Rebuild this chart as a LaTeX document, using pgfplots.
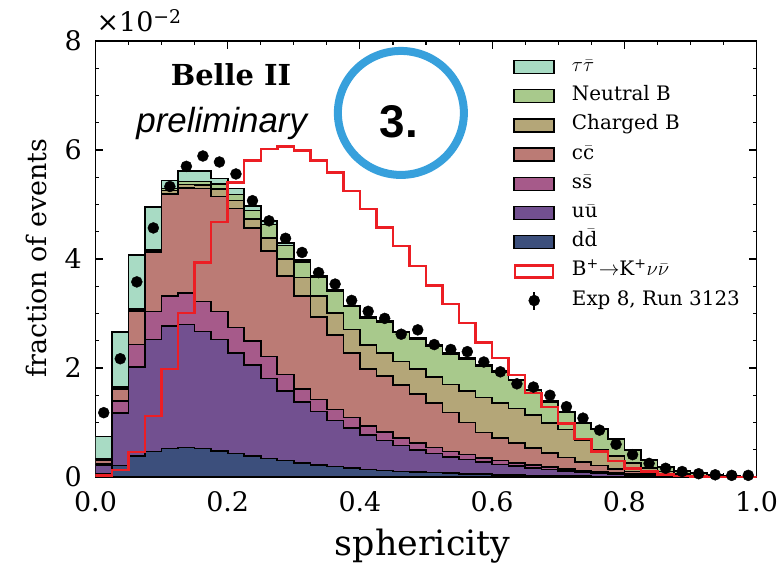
\documentclass[border=0pt]{standalone}
\usepackage{pgfplots}
\pgfplotsset{compat=1.18}
\usepackage{pgfplotstable}
\usepackage{fontspec}
\setmainfont{DejaVu Serif}
\newfontfamily\libsans{Liberation Sans}
\usetikzlibrary{calc}

\definecolor{tau}{RGB}{168,219,196}
\definecolor{nb}{RGB}{168,201,140}
\definecolor{cb}{RGB}{180,166,120}
\definecolor{cc}{RGB}{187,123,117}
\definecolor{ss}{RGB}{166,90,138}
\definecolor{uu}{RGB}{114,80,144}
\definecolor{dd}{RGB}{60,79,124}
\definecolor{sigred}{RGB}{236,30,36}
\definecolor{circblue}{RGB}{55,160,220}

\pgfplotsset{
  histlegend/.style={legend image code/.code={\draw[##1, line width=1.5bp] (0bp,-6.5bp) rectangle (40bp,6.5bp);}},
  hist/.style={const plot mark left, draw=black, line width=1.6bp, histlegend},
}

% cumulative stack boundaries (x = left bin edge), units of 1e-2
\pgfplotstableread{
x     T     N     CB    C     S     U     D
0.000 0.74  0.34  0.33  0.31  0.25  0.22  0.06
0.025 2.66  1.66  1.64  1.61  1.40  1.17  0.21
0.050 4.07  3.08  3.06  3.04  2.43  2.02  0.38
0.075 4.95  4.16  4.14  4.12  3.04  2.52  0.47
0.100 5.44  5.29  5.26  5.19  3.32  2.77  0.52
0.125 5.62  5.42  5.37  5.30  3.38  2.80  0.54
0.150 5.62  5.42  5.36  5.29  3.22  2.67  0.52
0.175 5.48  5.38  5.28  5.15  3.04  2.52  0.48
0.200 5.29  5.18  5.07  4.93  2.74  2.28  0.43
0.225 4.97  4.89  4.73  4.57  2.49  2.06  0.38
0.250 4.70  4.63  4.38  4.15  2.21  1.81  0.34
0.275 4.29  4.25  4.00  3.69  1.88  1.58  0.30
0.300 3.98  3.95  3.66  3.32  1.62  1.38  0.26
0.325 3.69  3.66  3.32  2.94  1.42  1.20  0.22
0.350 3.44  3.41  3.01  2.60  1.24  1.04  0.19
0.375 3.15  3.13  2.71  2.28  1.09  0.90  0.16
0.400 2.94  2.92  2.42  1.98  0.94  0.77  0.14
0.425 2.86  2.84  2.28  1.85  0.83  0.67  0.12
0.450 2.67  2.65  2.12  1.69  0.72  0.58  0.10
0.475 2.55  2.53  1.98  1.52  0.62  0.50  0.09
0.500 2.42  2.40  1.84  1.36  0.54  0.43  0.08
0.525 2.28  2.26  1.70  1.18  0.47  0.37  0.07
0.550 2.19  2.17  1.58  1.00  0.41  0.32  0.06
0.575 2.06  2.04  1.46  0.82  0.35  0.27  0.05
0.600 1.94  1.92  1.36  0.72  0.30  0.23  0.04
0.625 1.79  1.77  1.26  0.62  0.26  0.20  0.035
0.650 1.60  1.59  1.14  0.53  0.22  0.17  0.03
0.675 1.39  1.38  0.99  0.44  0.18  0.14  0.025
0.700 1.20  1.19  0.87  0.36  0.15  0.11  0.02
0.725 1.00  0.99  0.68  0.28  0.12  0.09  0.015
0.750 0.88  0.87  0.50  0.21  0.09  0.07  0.01
0.775 0.70  0.69  0.38  0.15  0.07  0.05  0.01
0.800 0.50  0.49  0.26  0.10  0.05  0.035 0.005
0.825 0.32  0.31  0.16  0.06  0.035 0.025 0.005
0.850 0.19  0.18  0.10  0.04  0.02  0.015 0.003
0.875 0.12  0.11  0.06  0.02  0.01  0.008 0.002
0.900 0.07  0.065 0.03  0.01  0.006 0.004 0.001
0.925 0.04  0.035 0.015 0.005 0.003 0.002 0.0
0.950 0.02  0.018 0.008 0.002 0.001 0.001 0.0
0.975 0.01  0.009 0.004 0.001 0.0   0.0   0.0
1.000 0.01  0.009 0.004 0.001 0.0   0.0   0.0
}\stack

\pgfplotstableread{
x     s
0.000 0.03
0.025 0.13
0.050 0.46
0.075 1.12
0.100 1.98
0.125 3.01
0.150 3.94
0.175 4.68
0.200 5.40
0.225 5.81
0.250 6.02
0.275 6.06
0.300 5.99
0.325 5.81
0.350 5.59
0.375 5.25
0.400 4.92
0.425 4.58
0.450 4.24
0.475 3.87
0.500 3.51
0.525 3.17
0.550 2.83
0.575 2.47
0.600 2.18
0.625 1.87
0.650 1.54
0.675 1.28
0.700 0.98
0.725 0.70
0.750 0.47
0.775 0.29
0.800 0.16
0.825 0.10
0.850 0.05
0.875 0.02
0.900 0.01
0.925 0.0
0.950 0.0
0.975 0.0
1.000 0.0
}\sig

\pgfplotstableread{
x      d
0.0125 1.18
0.0375 2.17
0.0625 3.58
0.0875 4.57
0.1125 5.33
0.1375 5.70
0.1625 5.89
0.1875 5.78
0.2125 5.56
0.2375 5.07
0.2625 4.70
0.2875 4.38
0.3125 4.12
0.3375 3.75
0.3625 3.54
0.3875 3.24
0.4125 3.04
0.4375 2.91
0.4625 2.62
0.4875 2.70
0.5125 2.43
0.5375 2.34
0.5625 2.30
0.5875 2.11
0.6125 1.93
0.6375 1.71
0.6625 1.65
0.6875 1.50
0.7125 1.29
0.7375 1.08
0.7625 0.86
0.7875 0.60
0.8125 0.41
0.8375 0.25
0.8625 0.16
0.8875 0.10
0.9125 0.06
0.9375 0.04
0.9625 0.03
0.9875 0.03
}\data

\begin{document}
\begin{tikzpicture}
\begin{axis}[
  scale only axis, width=661bp, height=436bp,
  xmin=0, xmax=1, ymin=0, ymax=8,
  xtick={0,0.2,0.4,0.6,0.8,1.0},
  ytick={0,2,4,6,8},
  minor x tick num=3, minor y tick num=3,
  tick align=inside, xtick pos=both, ytick pos=both,
  xticklabel pos=lower, yticklabel pos=left,
  major tick length=8bp, minor tick length=4bp,
  every tick/.style={black, line width=1.1bp},
  axis line style={line width=1.5bp},
  /pgf/number format/assume math mode=true,
  tick label style={font=\fontsize{27}{32}\selectfont},
  xticklabel style={anchor=north, inner sep=0pt, text height=19.7bp, text depth=0pt, yshift=-15bp,
    /pgf/number format/.cd, fixed, fixed zerofill, precision=1},
  yticklabel style={anchor=east, inner sep=0pt, text height=19.7bp, text depth=0pt, xshift=-13.5bp},
  xlabel={sphericity}, ylabel={fraction of events},
  xlabel style={font=\fontsize{35}{42}\selectfont, at={(axis description cs:0.495,-0.179)}, anchor=base},
  ylabel style={font=\fontsize{27}{32}\selectfont, at={(axis description cs:-0.0734,0.502)}, anchor=base},
  legend style={at={(rel axis cs:0.632,0.965)}, anchor=north west, draw=none, fill=none,
    inner sep=0pt, row sep=8.2bp, column sep=17bp, font=\fontsize{20}{24}\selectfont,
    nodes={inner sep=0pt, text height=15bp, text depth=6bp}},
  legend cell align=left,
]
\addplot[hist, fill=tau] table[x=x,y=T]{\stack} \closedcycle;
\addlegendentry{$\tau\bar{\tau}$}
\addplot[hist, fill=nb] table[x=x,y=N]{\stack} \closedcycle;
\addlegendentry{Neutral B}
\addplot[hist, fill=cb] table[x=x,y=CB]{\stack} \closedcycle;
\addlegendentry{Charged B}
\addplot[hist, fill=cc] table[x=x,y=C]{\stack} \closedcycle;
\addlegendentry{c$\bar{\mbox{c}}$}
\addplot[hist, fill=ss] table[x=x,y=S]{\stack} \closedcycle;
\addlegendentry{s$\bar{\mbox{s}}$}
\addplot[hist, fill=uu] table[x=x,y=U]{\stack} \closedcycle;
\addlegendentry{u$\bar{\mbox{u}}$}
\addplot[hist, fill=dd] table[x=x,y=D]{\stack} \closedcycle;
\addlegendentry{d$\bar{\mbox{d}}$}
\addplot[const plot mark left, draw=sigred, line width=2.5bp,
  legend image code/.code={\draw[sigred, line width=2.4bp, fill=white] (1bp,-6bp) rectangle (39bp,6bp);}]
  table[x=x,y=s]{\sig};
\addlegendentry{B\textsuperscript{+}$\rightarrow$K\textsuperscript{+}$\nu\bar{\nu}$}
\addplot[only marks, mark=*, mark size=5.5bp, black,
  legend image code/.code={\path (0bp,0bp) (40bp,0bp); \draw[black, line width=2bp] (20bp,-9bp)--(20bp,9bp); \fill[black] (20bp,0bp) circle (5.5bp);}]
  table[x=x,y=d]{\data};
\addlegendentry{Exp 8, Run 3123}

\node[font=\fontsize{29}{34}\selectfont\bfseries] at (axis description cs:0.205,0.922) {Belle II};
\node[font=\fontsize{35}{42}\selectfont\libsans\itshape] at (axis description cs:0.191,0.811) {preliminary};
\draw[circblue, line width=8bp] (axis description cs:0.462,0.835) ellipse [x radius=63bp, y radius=62bp];
\node[font=\fontsize{46}{52}\selectfont\libsans\bfseries] at (axis description cs:0.459,0.814) {3.};
\end{axis}
\node[anchor=base west, inner sep=0pt, font=\fontsize{27}{32}\selectfont] at ($(current axis.north west)+(1bp,9bp)$) {×10\textsuperscript{−2}};
\pgfresetboundingbox
\path ($(current axis.south west)+(-95.5bp,-92bp)$) rectangle ($(current axis.south west)+(688.5bp,477bp)$);
\end{tikzpicture}
\end{document}
